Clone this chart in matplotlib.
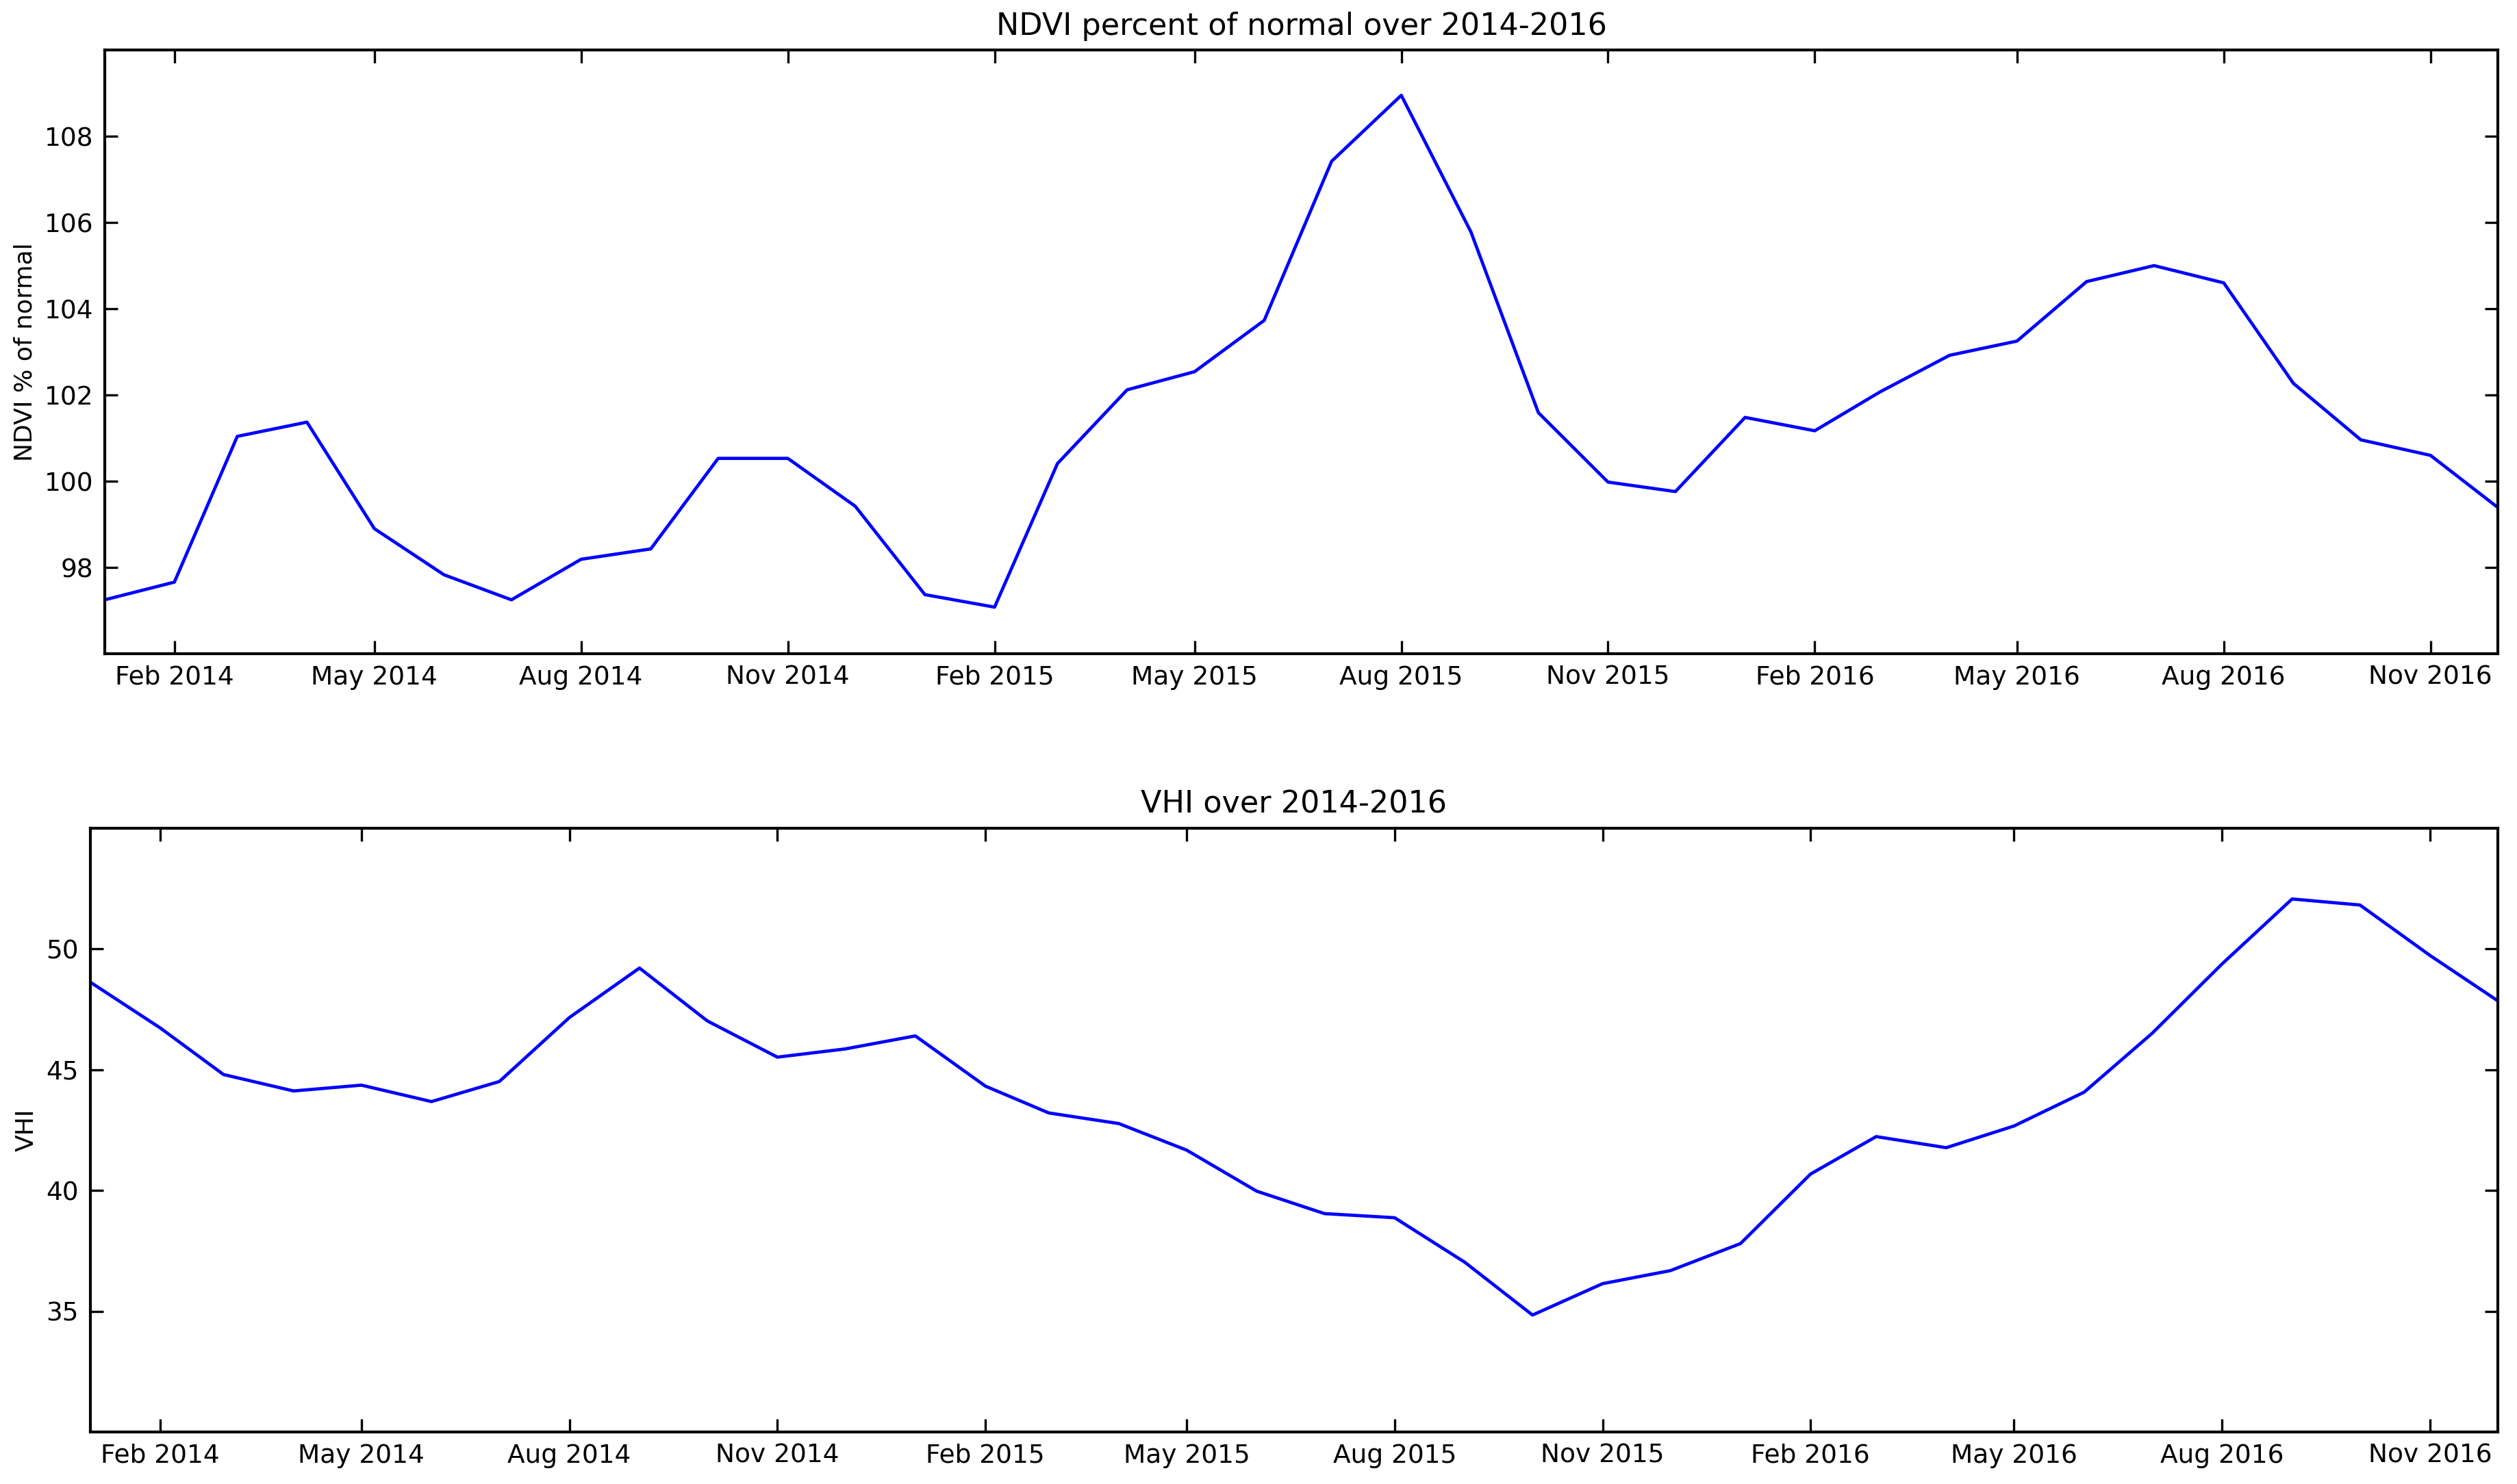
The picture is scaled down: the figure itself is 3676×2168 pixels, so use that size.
import matplotlib
matplotlib.use("Agg")
import matplotlib.pyplot as plt
import matplotlib.dates as mdates
import numpy as np
import pandas as pd

months = pd.date_range("2014-01-01", "2016-12-01", freq="MS")

ndvi = [97.25, 97.66, 101.04, 101.37, 98.90, 97.83, 97.25, 98.19, 98.43, 100.53, 100.53, 99.42,
        97.37, 97.08, 100.41, 102.12, 102.54, 103.73, 107.42, 108.95, 105.78, 101.59, 99.98, 99.76,
        101.48, 101.17, 102.07, 102.92, 103.25, 104.63, 105.00, 104.60, 102.27, 100.96, 100.60, 99.39]

vhi = [48.63, 46.73, 44.80, 44.12, 44.36, 43.68, 44.51, 47.16, 49.21, 47.02, 45.52, 45.86,
       46.40, 44.32, 43.21, 42.77, 41.67, 39.97, 39.04, 38.87, 37.03, 34.84, 36.14, 36.68,
       37.80, 40.68, 42.23, 41.77, 42.67, 44.07, 46.50, 49.38, 52.07, 51.82, 49.73, 47.85]

ndvi_ticks = [98, 100, 102, 104, 106, 108]
vhi_ticks = [35, 40, 45, 50]

plt.rcParams['font.family'] = ['DejaVu Sans']

fig = plt.figure(figsize=(18.38, 10.84), dpi=200, facecolor="white")
ax1 = fig.add_axes([0.0416, 0.5595, 0.9508, 0.4068])
ax2 = fig.add_axes([0.0358, 0.0351, 0.9566, 0.4068])


def style(ax, title, ylabel, yticks, ylim):
    ax.set_title(title, fontsize=16, pad=8)
    ax.set_ylabel(ylabel, fontsize=13, labelpad=4)
    ax.set_yticks(yticks)
    ax.set_ylim(ylim)
    ax.set_xlim(months[0], months[-1])
    ax.xaxis.set_major_locator(mdates.MonthLocator(bymonth=[2, 5, 8, 11]))
    ax.xaxis.set_major_formatter(mdates.DateFormatter("%b %Y"))
    ax.tick_params(direction="in", length=7, width=1.2, top=True, right=True,
                   labelsize=13.5, pad=6)
    for s in ax.spines.values():
        s.set_linewidth(1.5)


ax1.plot(months, ndvi, color="blue", lw=1.7)
style(ax1, "NDVI percent of normal over 2014-2016", "NDVI % of normal", ndvi_ticks, (96, 110))

ax2.plot(months, vhi, color="blue", lw=1.7)
style(ax2, "VHI over 2014-2016", "VHI", vhi_ticks, (30, 55))

fig.savefig("out.png", dpi=200, facecolor="white")
